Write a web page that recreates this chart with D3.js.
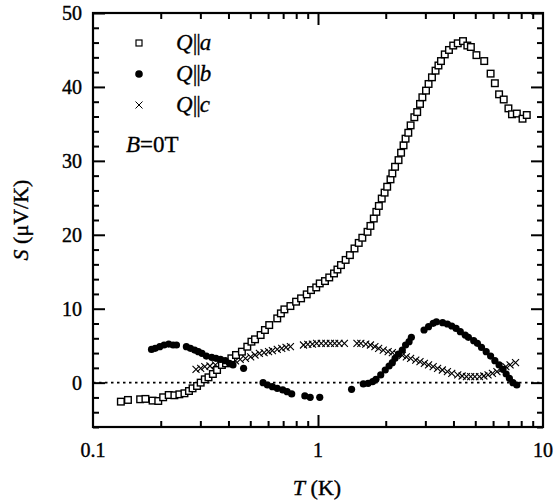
<!DOCTYPE html>
<html>
<head>
<meta charset="utf-8">
<script src="https://cdn.jsdelivr.net/npm/d3@7"></script>
<style>
  body { margin: 0; background: #fff; }
  svg { display: block; font-family: "Liberation Serif", "Times New Roman", serif; }
</style>
</head>
<body>
<svg id="chart" width="555" height="504"></svg>
<script>
// [T (K), S (uV/K)]
var seriesA = [[0.133,-2.57],[0.143,-2.34],[0.162,-2.25],[0.171,-2.2],[0.184,-2.43],[0.195,-2.48],[0.205,-1.98],[0.217,-1.67],[0.230,-1.71],[0.242,-1.58],
  [0.255,-1.44],[0.267,-1.13],[0.277,-0.77],[0.290,-0.45],[0.301,0],[0.314,0.45],[0.326,0.72],[0.341,1.17],[0.356,1.71],[0.374,2.39],
  [0.390,2.61],[0.412,3.29],[0.432,3.74],[0.459,4.19],[0.485,4.86],[0.506,5.54],[0.525,5.86],[0.556,6.44],[0.581,7.12],[0.607,7.79],
  [0.659,8.69],[0.684,9.37],[0.709,9.91],[0.754,10.36],[0.799,10.95],[0.841,11.4],[0.891,11.94],[0.931,12.52],[0.982,12.88],[1.018,13.42],
  [1.074,13.74],[1.122,14.23],[1.178,14.77],[1.22,15.3],[1.265,15.9],[1.327,16.6],[1.386,17.25],[1.453,18.15],[1.517,18.9],[1.574,19.6],
  [1.66,20.4],[1.71,21.2],[1.77,22.2],[1.817,23.1],[1.864,23.9],[1.92,24.9],[1.977,25.7],[2.03,26.5],[2.10,27.5],[2.14,28.3],
  [2.20,29.2],[2.28,30.1],[2.34,31.1],[2.40,32.1],[2.45,33.0],[2.52,33.8],[2.58,34.8],[2.68,35.9],[2.76,36.6],[2.84,37.7],
  [2.91,38.6],[3.02,39.5],[3.10,40.4],[3.21,41.3],[3.33,42.2],[3.43,42.9],[3.52,43.5],[3.66,44.4],[3.82,45.0],[3.99,45.6],
  [4.18,45.9],[4.41,46.2],[4.61,45.6],[4.78,45.4],[5.06,44.3],[5.48,43.5],[5.85,41.8],[6.11,40.5],[6.38,39.0],[6.69,38.3],
  [7.02,37.1],[7.28,36.3],[7.65,36.4],[8.11,35.7],[8.47,36.2]];

var seriesB = [[0.182,4.5],[0.189,4.64],[0.198,4.86],[0.207,5.09],[0.217,5.22],[0.227,5.09],[0.235,5.09],
  [0.260,4.86],[0.271,4.64],[0.283,4.41],[0.294,4.19],[0.305,3.96],[0.319,3.6],[0.337,3.42],[0.352,3.29],[0.369,3.15],
  [0.387,2.97],[0.404,2.61],[0.419,2.39],[0.467,1.94],
  [0.570,0],[0.596,-0.32],[0.627,-0.54],[0.659,-0.77],[0.697,-0.99],[0.729,-1.22],[0.764,-1.53],
  [0.874,-1.8],[0.923,-1.98],[1.018,-1.98],
  [1.41,-0.9],[1.59,-0.18],[1.67,-0.09],[1.75,0.14],[1.81,0.45],[1.90,1.04],[1.99,1.71],[2.07,2.25],[2.14,2.7],
  [2.20,3.29],[2.28,3.87],[2.37,4.41],[2.45,5.09],[2.54,5.54],[2.60,6.13],
  [2.96,7.12],[3.10,7.57],[3.25,8.02],[3.36,8.24],[3.58,8.11],[3.76,7.93],[3.93,7.66],[4.11,7.34],[4.29,6.89],
  [4.51,6.44],[4.66,6.13],[4.92,5.68],[5.11,5.32],[5.33,4.77],[5.59,4.19],[5.85,3.6],[6.11,2.97],[6.38,2.39],
  [6.64,1.8],[6.86,1.17],[7.09,0.59],[7.35,0],[7.65,-0.32]];

var seriesC = [[0.287,1.8],[0.301,1.94],[0.314,2.16],[0.331,2.25],[0.350,2.39],[0.369,2.52],[0.41,2.8],[0.43,2.95],
  [0.451,3.15],[0.476,3.29],[0.502,3.5],[0.525,3.74],[0.549,3.96],[0.576,4.05],[0.603,4.19],[0.627,4.32],
  [0.659,4.5],[0.690,4.64],[0.721,4.77],[0.754,4.86],[0.862,5.09],[0.901,5.18],[0.944,5.22],[0.986,5.32],
  [1.034,5.32],[1.084,5.32],[1.135,5.32],[1.186,5.32],[1.240,5.32],[1.31,5.32],[1.49,5.32],[1.55,5.32],
  [1.63,5.22],[1.71,5.09],[1.79,4.86],[1.86,4.64],[1.95,4.41],[2.05,4.19],[2.14,4.05],[2.25,3.87],
  [2.37,3.69],[2.47,3.5],[2.58,3.29],[2.72,3.06],[2.84,2.84],[2.97,2.61],[3.10,2.39],[3.25,2.16],
  [3.40,1.94],[3.57,1.71],[3.76,1.49],[3.93,1.26],[4.18,1.04],[4.37,0.9],[4.57,0.81],[4.77,0.81],
  [4.98,0.81],[5.22,0.81],[5.46,0.9],[5.70,1.04],[5.96,1.26],[6.24,1.49],[6.53,1.8],[6.84,2.16],
  [7.14,2.39],[7.55,2.7]];

var xDomain = [0.1, 10];
var yDomain = [-6, 50];
var xTickLabels = [0.1, 1, 10];
var yTickLabels = [0, 10, 20, 30, 40, 50];
var legendNames = ["a", "b", "c"];

var svg = d3.select("#chart");
var pL = 93, pR = 543, pT = 13, pB = 427;

var x = d3.scaleLog().domain(xDomain).range([pL, pR]);
var y = d3.scaleLinear().domain(yDomain).range([pB, pT]);

var minorX = [];
[0.1, 1].forEach(function(d){
  for (var k = 2; k <= 9; k++) minorX.push(d * k);
});
var minorY = d3.range(-6, 50.1, 2).filter(function(d){ return d % 10 !== 0; });

// ticks on all four sides, pointing in
function tickAxis(axisFn, scale, vals, len) {
  return axisFn(scale).tickValues(vals).tickSize(len).tickFormat("");
}
var tickG = svg.append("g");
tickG.append("g").attr("transform", "translate(0," + pB + ")")
  .call(tickAxis(d3.axisTop, x, minorX, 6));
tickG.append("g").attr("transform", "translate(0," + pB + ")")
  .call(tickAxis(d3.axisTop, x, [1], 12));
tickG.append("g").attr("transform", "translate(0," + pT + ")")
  .call(tickAxis(d3.axisBottom, x, minorX, 6));
tickG.append("g").attr("transform", "translate(0," + pT + ")")
  .call(tickAxis(d3.axisBottom, x, [1], 12));
tickG.append("g").attr("transform", "translate(" + pL + ",0)")
  .call(tickAxis(d3.axisRight, y, minorY, 6));
tickG.append("g").attr("transform", "translate(" + pL + ",0)")
  .call(tickAxis(d3.axisRight, y, yTickLabels, 12));
tickG.append("g").attr("transform", "translate(" + pR + ",0)")
  .call(tickAxis(d3.axisLeft, y, minorY, 6));
tickG.append("g").attr("transform", "translate(" + pR + ",0)")
  .call(tickAxis(d3.axisLeft, y, yTickLabels, 12));
tickG.selectAll(".domain").remove();
tickG.selectAll(".tick line").attr("stroke", "#000").attr("stroke-width", 2);

// tick labels
svg.append("g").selectAll("text").data(xTickLabels).enter().append("text")
  .attr("x", function(d){ return x(d); })
  .attr("y", pB + 30)
  .attr("text-anchor", "middle")
  .attr("font-size", 20)
  .attr("stroke", "#000").attr("stroke-width", 0.4)
  .text(function(d){ return d; });
svg.append("g").selectAll("text").data(yTickLabels).enter().append("text")
  .attr("x", pL - 11)
  .attr("y", function(d){ return y(d) + 7; })
  .attr("text-anchor", "end")
  .attr("font-size", 20)
  .attr("stroke", "#000").attr("stroke-width", 0.4)
  .text(function(d){ return d; });

// zero line
svg.append("line")
  .attr("x1", pL).attr("x2", pR)
  .attr("y1", y(0)).attr("y2", y(0))
  .attr("stroke", "#000").attr("stroke-width", 1.6)
  .attr("stroke-dasharray", "2.5,3.5");

// data
var plot = svg.append("g");
plot.selectAll("path.cross").data(seriesC).enter().append("path")
  .attr("class", "cross")
  .attr("d", function(d){
    var cx = x(d[0]), cy = y(d[1]), s = 3.5;
    return "M" + (cx - s) + "," + (cy - s) + "L" + (cx + s) + "," + (cy + s) +
      "M" + (cx - s) + "," + (cy + s) + "L" + (cx + s) + "," + (cy - s);
  })
  .attr("stroke", "#000").attr("stroke-width", 1.1).attr("fill", "none");

plot.selectAll("rect").data(seriesA).enter().append("rect")
  .attr("x", function(d){ return x(d[0]) - 3.3; })
  .attr("y", function(d){ return y(d[1]) - 3.3; })
  .attr("width", 6.6).attr("height", 6.6)
  .attr("fill", "#fff").attr("stroke", "#000").attr("stroke-width", 1.4);

plot.selectAll("circle").data(seriesB).enter().append("circle")
  .attr("cx", function(d){ return x(d[0]); })
  .attr("cy", function(d){ return y(d[1]); })
  .attr("r", 3.6)
  .attr("fill", "#000");

// frame
svg.append("rect")
  .attr("x", pL).attr("y", pT)
  .attr("width", pR - pL).attr("height", pB - pT)
  .attr("fill", "none").attr("stroke", "#000").attr("stroke-width", 2.2);

// legend
var leg = svg.append("g");
var legY = [43, 74, 105];
leg.append("rect").attr("x", 136).attr("y", legY[0] - 3).attr("width", 6).attr("height", 6)
  .attr("fill", "#fff").attr("stroke", "#000").attr("stroke-width", 1.2);
leg.append("circle").attr("cx", 139).attr("cy", legY[1]).attr("r", 3.8).attr("fill", "#000");
leg.append("path")
  .attr("d", "M135.5," + (legY[2] - 3.5) + "L142.5," + (legY[2] + 3.5) + "M135.5," + (legY[2] + 3.5) + "L142.5," + (legY[2] - 3.5))
  .attr("stroke", "#000").attr("stroke-width", 1);
legendNames.forEach(function(n, i){
  var t = leg.append("text").attr("x", 176).attr("y", legY[i] + 7).attr("font-size", 23)
    .attr("stroke", "#000").attr("stroke-width", 0.3);
  t.append("tspan").attr("font-style", "italic").text("Q");
  t.append("tspan").attr("letter-spacing", -1).text("||");
  t.append("tspan").attr("font-style", "italic").text(n);
});
var bt = leg.append("text").attr("x", 126).attr("y", 152).attr("font-size", 23)
  .attr("stroke", "#000").attr("stroke-width", 0.3);
bt.append("tspan").attr("font-style", "italic").text("B");
bt.append("tspan").text("=0T");

// axis titles
var xt = svg.append("text").attr("x", 317).attr("y", 495).attr("text-anchor", "middle").attr("font-size", 22)
  .attr("stroke", "#000").attr("stroke-width", 0.4);
xt.append("tspan").attr("font-style", "italic").text("T");
xt.append("tspan").text(" (K)");
var yt = svg.append("text").attr("transform", "translate(28,220) rotate(-90)")
  .attr("text-anchor", "middle").attr("font-size", 22)
  .attr("stroke", "#000").attr("stroke-width", 0.4);
yt.append("tspan").attr("font-style", "italic").text("S");
yt.append("tspan").text(" (\u03bcV/K)");
</script>
</body>
</html>
